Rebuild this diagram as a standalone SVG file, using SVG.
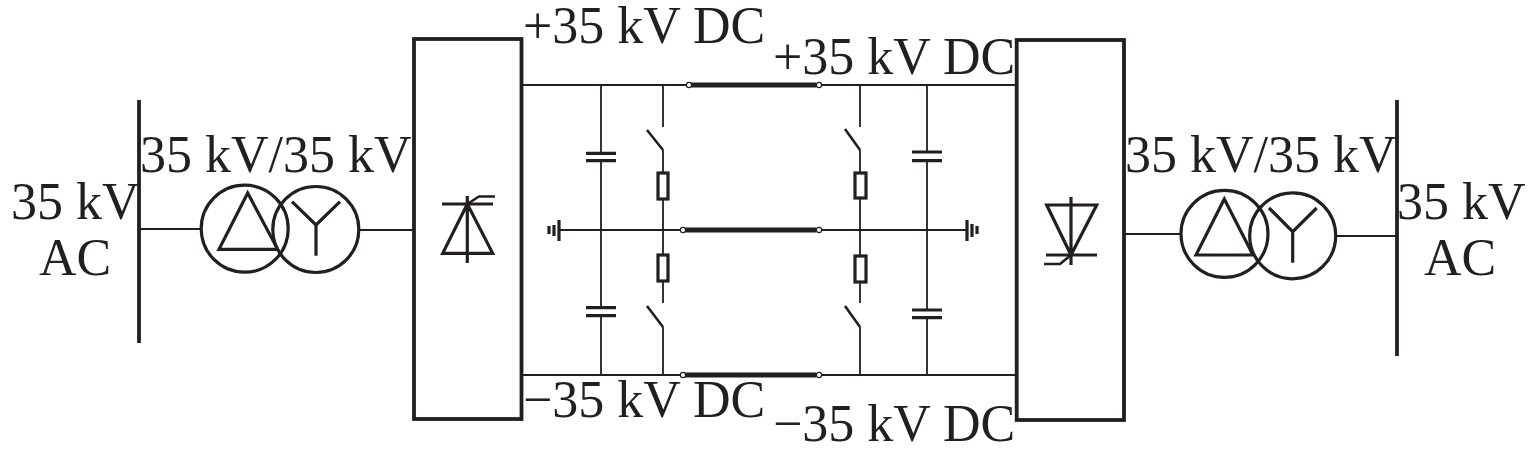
<svg xmlns="http://www.w3.org/2000/svg" width="1535" height="457" viewBox="0 0 1535 457">
<style>
.t{font-family:"Liberation Serif","Times New Roman",serif;font-size:52px;fill:#231f20}
.w{fill:none;stroke:#231f20;stroke-width:1.8}
.m{fill:none;stroke:#231f20;stroke-width:2.6}
.s{fill:none;stroke:#231f20;stroke-width:3.2}
.b{fill:none;stroke:#231f20;stroke-width:3.8}
.c{stroke:#231f20;stroke-width:5;fill:none}
.o{fill:#fff;stroke:#231f20;stroke-width:1.2}
</style>
<rect width="1535" height="457" fill="#fff"/>
<g id="connectors">
<path class="w" d="M139 229H201M360 230H414M522 85H687M821 85H1016M559 230H681M821 230H967M522 375H681M821 375H1016M1124 234H1181M1336 236H1397"/>
<path class="w" d="M601 85V153M601 161V308M601 316V375M927 85V152M927 161V310M927 318V375"/>
<path class="w" d="M663 85V127M663 150V173M663 199V255M663 281V303M663 327V375M860 85V127M860 150V173M860 198V256M860 282V303M860 327V375"/>
<path class="c" d="M691 85H816M685 230H816M685 375H816"/>
<circle class="o" cx="689" cy="85" r="2.6"/><circle class="o" cx="819" cy="85" r="2.6"/>
<circle class="o" cx="683" cy="230" r="2.6"/><circle class="o" cx="819" cy="230" r="2.6"/>
<circle class="o" cx="683" cy="375" r="2.6"/><circle class="o" cx="819" cy="375" r="2.6"/>
</g>
<g id="bus-left"><path class="b" d="M139 100V343"/></g>
<g id="bus-right"><path class="b" d="M1397 100V356"/></g>
<g id="transformer-left">
<circle class="s" cx="244.700" cy="228.700" r="43.500"/><circle class="s" cx="315.800" cy="229.500" r="43"/>
<path class="s" d="M247.700 193L219 249.300H277.700Z"/>
<path class="s" d="M292 201.700L316 225L340 201.700M316 225V255.700"/>
</g>
<g id="transformer-right">
<circle class="s" cx="1224.500" cy="233.800" r="43.500"/><circle class="s" cx="1292.700" cy="235.800" r="43"/>
<path class="s" d="M1224.300 199L1196 255H1253Z"/>
<path class="s" d="M1269 208L1292.700 231.700L1316.700 208M1292.700 231.700V262.700"/>
</g>
<g id="converter-left">
<rect class="b" x="414" y="39" width="107.500" height="380"/>
<path class="s" d="M442 204H493M467.300 196V263M467.300 204L442.700 253.300H492.700Z"/>
<path class="m" d="M467.300 204L479 196.500H495"/>
</g>
<g id="converter-right">
<rect class="b" x="1016.700" y="40" width="107.300" height="380"/>
<path class="s" d="M1046 255H1097M1071 197V265M1071 255L1046.700 205H1096.700Z"/>
<path class="m" d="M1071 255L1060 264H1044"/>
</g>
<g id="capacitors">
<path class="s" d="M586 153.300H616M586 160.700H616M586 307.700H616M586 315.700H616M912 152H942M912 160.700H942M912 310H942M912 317.700H942"/>
</g>
<g id="switches">
<path class="m" d="M647 130L663 150M647 306L663 327M845 129L860 150M845 306L860 327"/>
</g>
<g id="resistors">
<rect class="s" x="658" y="173" width="10" height="26"/><rect class="s" x="658" y="255" width="10" height="26"/>
<rect class="s" x="855" y="173" width="11" height="25"/><rect class="s" x="855" y="256" width="11" height="26"/>
</g>
<g id="ground-left"><path class="s" d="M559 220V241M554 225V236M549 226V234"/></g>
<g id="ground-right"><path class="s" d="M967 220V241M972 224V237M977 226V234"/></g>
<g id="labels">
<text class="t" x="523" y="43">+35 kV DC</text>
<text class="t" x="773" y="74">+35 kV DC</text>
<text class="t" x="523" y="417">−35 kV DC</text>
<text class="t" x="773" y="441">−35 kV DC</text>
<text class="t" x="140" y="172">35 kV/35 kV</text>
<text class="t" x="1125" y="172">35 kV/35 kV</text>
<text class="t" x="11" y="219">35 kV</text>
<text class="t" x="39" y="275">AC</text>
<text class="t" x="1397" y="219">35 kV</text>
<text class="t" x="1424" y="275">AC</text>
</g>
</svg>
